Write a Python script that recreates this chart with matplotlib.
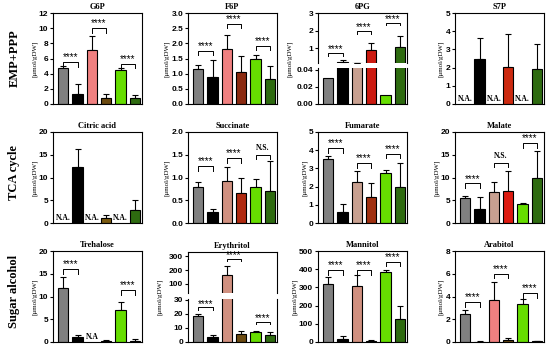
import numpy as np
import matplotlib.pyplot as plt

nan = np.nan

# ---- dados (media, erro, altura dos colchetes) ----
g6p_mean = [4.7, 1.3, 7.1, 0.8, 4.5, 0.8]
g6p_err = [0.3, 1.3, 1.9, 0.5, 0.2, 0.45]
g6p_sig = ['****', '****', '****']
g6p_sig_y = [5.5, 10.0, 5.3]

f6p_mean = [1.17, 0.9, 1.8, 1.07, 1.5, 0.82]
f6p_err = [0.12, 0.55, 0.47, 0.5, 0.13, 0.43]
f6p_sig = ['****', '****', '****']
f6p_sig_y = [1.75, 2.64, 1.92]

pg6_mean = [0.03, 0.22, 0.13, 0.87, 0.01, 1.05]
pg6_err = [0.0, 0.12, 0.03, 0.43, 0.0, 0.63]
pg6_sig = ['****', '****', '****']
pg6_sig_y = [0.72, 1.96, 2.44]

s7p_mean = [nan, 2.45, nan, 2.05, nan, 1.93]
s7p_err = [0, 1.15, 0, 1.8, 0, 1.35]

cit_mean = [nan, 12.2, nan, 1.0, nan, 2.8]
cit_err = [0, 4.0, 0, 0.8, 0, 2.3]

suc_mean = [0.8, 0.24, 0.93, 0.65, 0.8, 0.71]
suc_err = [0.1, 0.06, 0.3, 0.35, 0.17, 0.65]
suc_sig = ['****', '****', 'N.S.']
suc_sig_y = [1.25, 1.42, 1.5]

fum_mean = [3.5, 0.6, 2.25, 1.45, 2.72, 2.0]
fum_err = [0.17, 0.45, 0.6, 0.75, 0.17, 1.3]
fum_sig = ['****', '****', '****']
fum_sig_y = [4.1, 3.28, 3.8]

mal_mean = [5.4, 3.1, 6.9, 7.1, 4.1, 9.8]
mal_err = [0.6, 2.6, 2.2, 4.3, 0.35, 6.1]
mal_sig = ['****', 'N.S.', '****']
mal_sig_y = [8.7, 13.2, 17.5]

tre_mean = [11.8, 1.1, nan, 0.3, 7.0, 0.3]
tre_err = [2.5, 0.5, 0, 0.1, 1.9, 0.3]
tre_sig = ['****', None, '****']
tre_sig_y = [16.0, 0, 11.4]

ery_mean = [18.2, 3.6, 165, 5.8, 7.3, 5.3]
ery_err = [1.8, 1.2, 65, 2.2, 0.6, 2.0]
ery_sig = ['****', '****', '****']
ery_sig_y = [24.5, 280, 14.5]

man_mean = [318, 18, 305, 5, 383, 128]
man_err = [37, 17, 62, 6, 12, 72]
man_sig = ['****', '****', '****']
man_sig_y = [395, 395, 441]

ara_mean = [2.45, 0.03, 3.7, 0.17, 3.3, 0.05]
ara_err = [0.35, 0.02, 1.6, 0.2, 0.5, 0.02]
ara_sig = ['****', '****', '****']
ara_sig_y = [3.5, 6.0, 4.3]

SERIF = 'Liberation Serif'
SANS = 'Liberation Sans'
GREY, BLACK, LGREEN, DGREEN = '#808080', '#000000', '#66DD00', '#2E6B10'

fig = plt.figure(figsize=(5.5, 3.45), dpi=100)

col_left = [53, 188, 318, 455]
col_w = 89
row_top = [13, 132, 251]
row_h = 91


def rect(c, r, top_px=None, bot_px=None):
    l = col_left[c] / 550
    t = row_top[r] if top_px is None else top_px
    b = row_top[r] + row_h if bot_px is None else bot_px
    return [l, 1 - b / 345, col_w / 550, (b - t) / 345]


def style(ax, ylim, ticks, fmt):
    ax.set_xlim(-0.71, 5.5)
    ax.set_ylim(*ylim)
    ax.set_yticks(ticks)
    ax.set_yticklabels([fmt.format(t) for t in ticks], fontsize=6,
                       fontweight='bold', family=SANS)
    ax.set_xticks([])
    ax.tick_params(axis='y', length=2.5, width=0.8, pad=1)
    for s in ax.spines.values():
        s.set_linewidth(0.8)


def bars(ax, mean, err, c3, c4):
    colors = [GREY, BLACK, c3, c4, LGREEN, DGREEN]
    for i in range(6):
        if np.isnan(mean[i]):
            continue
        ax.bar(i, mean[i], width=0.71, color=colors[i], edgecolor='black',
               linewidth=0.8, zorder=2)
        if err[i] > 0:
            ax.errorbar(i, mean[i], yerr=[[0], [err[i]]], fmt='none',
                        ecolor='black', elinewidth=0.8, capsize=2,
                        capthick=0.8, zorder=1)


def na(ax, idx, ylim, txt='N.A.'):
    for i in idx:
        ax.text(i, ylim[0] + 0.015 * (ylim[1] - ylim[0]), txt, ha='center',
                va='bottom', fontsize=5.5, fontweight='bold', family=SERIF)


def bracket(ax, pair, y, txt, ylim):
    rng = ylim[1] - ylim[0]
    h = 0.05 * rng
    x0, x1 = 2 * pair, 2 * pair + 1
    ax.plot([x0, x0, x1, x1], [y - h, y, y, y - h], color='black', lw=0.7)
    if txt == 'N.S.':
        ax.text((x0 + x1) / 2, y + 0.03 * rng, txt, ha='center', va='bottom',
                fontsize=5.5, fontweight='bold', family=SERIF)
    else:
        ax.text((x0 + x1) / 2, y + 0.02 * rng, txt, ha='center',
                va='baseline', fontsize=7, family=SANS)


def sigs(ax, labels, ys, ylim):
    for p, (t, y) in enumerate(zip(labels, ys)):
        if t is not None:
            bracket(ax, p, y, t, ylim)


def title(ax, txt):
    ax.set_title(txt, fontsize=6, fontweight='bold', family=SERIF, pad=3)


def ylab(ax):
    ax.set_ylabel('[\u03bcmol/gDW]', fontsize=5, family=SERIF, labelpad=1)


def simple(c, r, name, mean, err, c3, c4, ylim, ticks, fmt='{:g}',
           labels=None, ys=None, na_idx=(), na_txt='N.A.'):
    ax = fig.add_axes(rect(c, r))
    bars(ax, mean, err, c3, c4)
    style(ax, ylim, ticks, fmt)
    if labels is not None:
        sigs(ax, labels, ys, ylim)
    na(ax, na_idx, ylim, na_txt)
    title(ax, name)
    ylab(ax)
    return ax


def broken(c, r, name, mean, err, c3, c4, hi, lo, lim_hi, lim_lo, t_hi, t_lo,
           fmt_hi, fmt_lo, labels, ys, in_hi):
    ax_hi = fig.add_axes(rect(c, r, hi[0], hi[1]))
    ax_lo = fig.add_axes(rect(c, r, lo[0], lo[1]))
    for ax in (ax_hi, ax_lo):
        bars(ax, mean, err, c3, c4)
    style(ax_hi, lim_hi, t_hi, fmt_hi)
    style(ax_lo, lim_lo, t_lo, fmt_lo)
    ax_hi.spines['bottom'].set_visible(False)
    ax_lo.spines['top'].set_visible(False)
    for p, (t, y) in enumerate(zip(labels, ys)):
        if in_hi[p]:
            bracket(ax_hi, p, y, t, lim_hi)
        else:
            bracket(ax_lo, p, y, t, lim_lo)
    title(ax_hi, name)
    yc = 1 - (row_top[r] + row_h / 2) / 345
    fig.text(col_left[c] / 550 - 0.052, yc, '[\u03bcmol/gDW]', rotation=90,
             fontsize=5, family=SERIF, ha='center', va='center')


# linha 1
simple(0, 0, 'G6P', g6p_mean, g6p_err, '#F08080', '#6B4A10', (0, 12),
       [0, 2, 4, 6, 8, 10, 12], labels=g6p_sig, ys=g6p_sig_y)
simple(1, 0, 'F6P', f6p_mean, f6p_err, '#F08080', '#8B2A10', (0, 3.0),
       [0, 0.5, 1.0, 1.5, 2.0, 2.5, 3.0], fmt='{:.1f}', labels=f6p_sig,
       ys=f6p_sig_y)
broken(2, 0, '6PG', pg6_mean, pg6_err, '#C8A090', '#CC1A10', (13, 63),
       (68, 104), (0.15, 3.0), (0, 0.042), [1, 2, 3], [0, 0.02, 0.04],
       '{:g}', '{:.2f}', pg6_sig, pg6_sig_y, [True, True, True])
simple(3, 0, 'S7P', s7p_mean, s7p_err, '#F08080', '#CC2A10', (0, 5),
       [0, 1, 2, 3, 4, 5], na_idx=[0, 2, 4])

# linha 2
simple(0, 1, 'Citric acid', cit_mean, cit_err, '#F08080', '#7A5A10', (0, 20),
       [0, 5, 10, 15, 20], na_idx=[0, 2, 4])
simple(1, 1, 'Succinate', suc_mean, suc_err, '#D09080', '#B02A10', (0, 2.0),
       [0, 0.5, 1.0, 1.5, 2.0], fmt='{:.1f}', labels=suc_sig, ys=suc_sig_y)
simple(2, 1, 'Fumarate', fum_mean, fum_err, '#C8A090', '#A03010', (0, 5),
       [0, 1, 2, 3, 4, 5], labels=fum_sig, ys=fum_sig_y)
simple(3, 1, 'Malate', mal_mean, mal_err, '#C8A090', '#DD1A10', (0, 20),
       [0, 5, 10, 15, 20], labels=mal_sig, ys=mal_sig_y)

# linha 3
simple(0, 2, 'Trehalose', tre_mean, tre_err, '#F08080', '#5A3A10', (0, 20),
       [0, 5, 10, 15, 20], labels=tre_sig, ys=tre_sig_y, na_idx=[2],
       na_txt='N.A')
broken(1, 2, 'Erythritol', ery_mean, ery_err, '#D09080', '#6B4A10', (252, 293),
       (299, 342), (35, 330), (0, 30.5), [100, 200, 300], [0, 10, 20, 30],
       '{:g}', '{:g}', ery_sig, ery_sig_y, [False, True, False])
simple(2, 2, 'Mannitol', man_mean, man_err, '#D09080', '#5A3A10', (0, 500),
       [0, 100, 200, 300, 400, 500], labels=man_sig, ys=man_sig_y)
simple(3, 2, 'Arabitol', ara_mean, ara_err, '#F08080', '#6B4A10', (0, 8),
       [0, 2, 4, 6, 8], labels=ara_sig, ys=ara_sig_y)

# rotulos das linhas
for txt, yc in [('EMP+PPP', 0.832), ('TCA cycle', 0.501),
                ('Sugar alcohol', 0.154)]:
    fig.text(0.026, yc, txt, rotation=90, fontsize=9, fontweight='bold',
             family=SERIF, ha='center', va='center')

fig.savefig('out.png', dpi=100)
